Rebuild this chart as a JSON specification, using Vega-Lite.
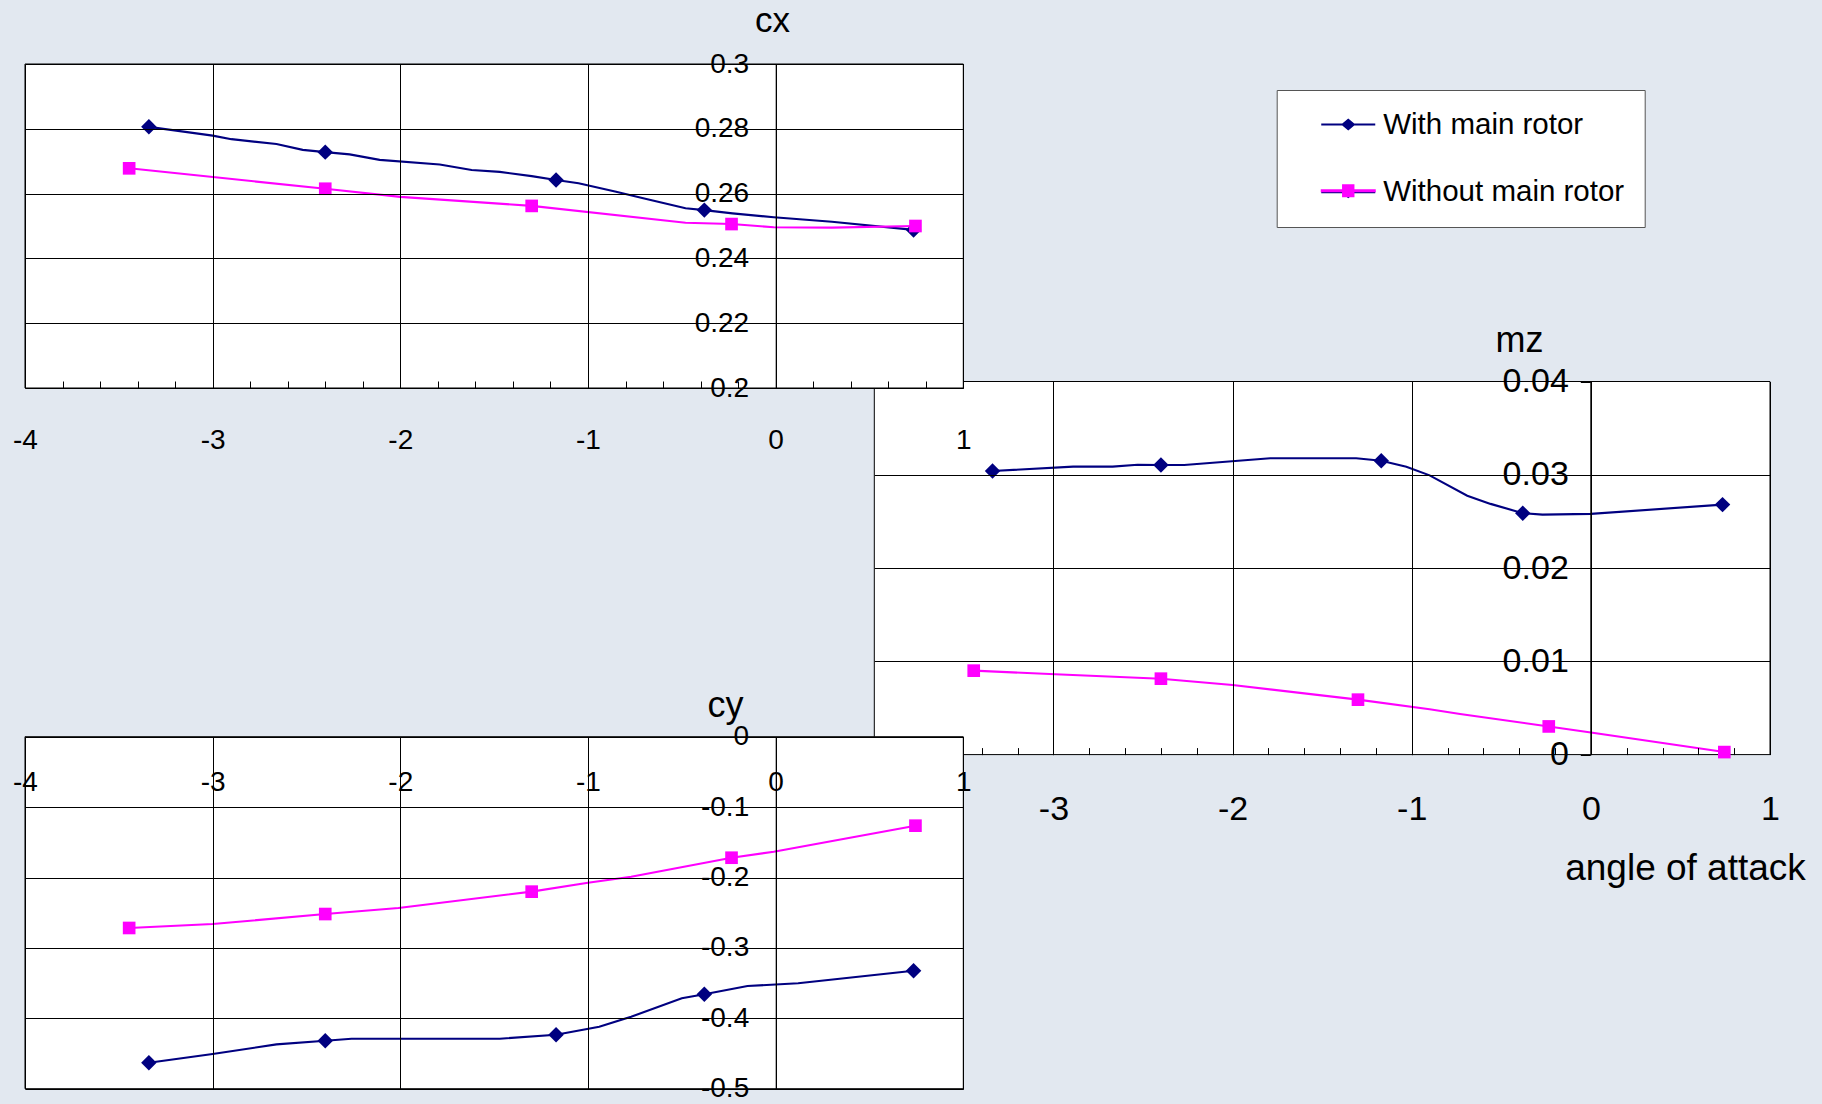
{
  "$schema": "https://vega.github.io/schema/vega-lite/v6.json",
  "width": 1822,
  "height": 1104,
  "padding": 0,
  "autosize": {"type": "none"},
  "background": "#E2E8F0",
  "config": {
    "view": {"stroke": null},
    "font": "Liberation Sans",
    "axis": {
      "labelFont": "Liberation Sans",
      "titleFont": "Liberation Sans",
      "labelColor": "black",
      "titleColor": "black",
      "gridColor": "black",
      "gridOpacity": 1,
      "gridWidth": 1,
      "tickColor": "black",
      "tickWidth": 1,
      "domainColor": "black",
      "domainWidth": 1,
      "labelFlush": false,
      "labelOverlap": false,
      "titleFontWeight": "normal"
    }
  },
  "data": {
    "values": [
      {"panel": "cx", "series": "With main rotor", "alpha": -3.34, "value": 0.2806, "measured": true},
      {"panel": "cx", "series": "With main rotor", "alpha": -3.0, "value": 0.2779, "measured": false},
      {"panel": "cx", "series": "With main rotor", "alpha": -2.9, "value": 0.2768, "measured": false},
      {"panel": "cx", "series": "With main rotor", "alpha": -2.66, "value": 0.2753, "measured": false},
      {"panel": "cx", "series": "With main rotor", "alpha": -2.52, "value": 0.2735, "measured": false},
      {"panel": "cx", "series": "With main rotor", "alpha": -2.4, "value": 0.2728, "measured": true},
      {"panel": "cx", "series": "With main rotor", "alpha": -2.27, "value": 0.2721, "measured": false},
      {"panel": "cx", "series": "With main rotor", "alpha": -2.11, "value": 0.2704, "measured": false},
      {"panel": "cx", "series": "With main rotor", "alpha": -1.79, "value": 0.269, "measured": false},
      {"panel": "cx", "series": "With main rotor", "alpha": -1.62, "value": 0.2673, "measured": false},
      {"panel": "cx", "series": "With main rotor", "alpha": -1.47, "value": 0.2667, "measured": false},
      {"panel": "cx", "series": "With main rotor", "alpha": -1.3, "value": 0.2654, "measured": false},
      {"panel": "cx", "series": "With main rotor", "alpha": -1.17, "value": 0.2642, "measured": true},
      {"panel": "cx", "series": "With main rotor", "alpha": -1.05, "value": 0.2632, "measured": false},
      {"panel": "cx", "series": "With main rotor", "alpha": -0.85, "value": 0.2606, "measured": false},
      {"panel": "cx", "series": "With main rotor", "alpha": -0.7, "value": 0.2585, "measured": false},
      {"panel": "cx", "series": "With main rotor", "alpha": -0.48, "value": 0.2555, "measured": false},
      {"panel": "cx", "series": "With main rotor", "alpha": -0.38, "value": 0.2549, "measured": true},
      {"panel": "cx", "series": "With main rotor", "alpha": -0.23, "value": 0.2539, "measured": false},
      {"panel": "cx", "series": "With main rotor", "alpha": -0.01, "value": 0.2527, "measured": false},
      {"panel": "cx", "series": "With main rotor", "alpha": 0.3, "value": 0.2513, "measured": false},
      {"panel": "cx", "series": "With main rotor", "alpha": 0.735, "value": 0.2488, "measured": true},
      {"panel": "cx", "series": "Without main rotor", "alpha": -3.445, "value": 0.2678, "measured": true},
      {"panel": "cx", "series": "Without main rotor", "alpha": -2.4, "value": 0.2615, "measured": true},
      {"panel": "cx", "series": "Without main rotor", "alpha": -2.0, "value": 0.259, "measured": false},
      {"panel": "cx", "series": "Without main rotor", "alpha": -1.3, "value": 0.2562, "measured": true},
      {"panel": "cx", "series": "Without main rotor", "alpha": -0.48, "value": 0.251, "measured": false},
      {"panel": "cx", "series": "Without main rotor", "alpha": -0.235, "value": 0.2506, "measured": true},
      {"panel": "cx", "series": "Without main rotor", "alpha": -0.01, "value": 0.2496, "measured": false},
      {"panel": "cx", "series": "Without main rotor", "alpha": 0.3, "value": 0.2495, "measured": false},
      {"panel": "cx", "series": "Without main rotor", "alpha": 0.745, "value": 0.25, "measured": true},
      {"panel": "mz", "series": "With main rotor", "alpha": -3.34, "value": 0.0304, "measured": true},
      {"panel": "mz", "series": "With main rotor", "alpha": -2.89, "value": 0.03087, "measured": false},
      {"panel": "mz", "series": "With main rotor", "alpha": -2.67, "value": 0.03087, "measured": false},
      {"panel": "mz", "series": "With main rotor", "alpha": -2.53, "value": 0.03108, "measured": false},
      {"panel": "mz", "series": "With main rotor", "alpha": -2.4, "value": 0.03105, "measured": true},
      {"panel": "mz", "series": "With main rotor", "alpha": -2.27, "value": 0.03105, "measured": false},
      {"panel": "mz", "series": "With main rotor", "alpha": -1.79, "value": 0.03177, "measured": false},
      {"panel": "mz", "series": "With main rotor", "alpha": -1.31, "value": 0.03177, "measured": false},
      {"panel": "mz", "series": "With main rotor", "alpha": -1.17, "value": 0.03151, "measured": true},
      {"panel": "mz", "series": "With main rotor", "alpha": -1.03, "value": 0.03087, "measured": false},
      {"panel": "mz", "series": "With main rotor", "alpha": -0.9, "value": 0.02994, "measured": false},
      {"panel": "mz", "series": "With main rotor", "alpha": -0.69, "value": 0.02776, "measured": false},
      {"panel": "mz", "series": "With main rotor", "alpha": -0.56, "value": 0.02688, "measured": false},
      {"panel": "mz", "series": "With main rotor", "alpha": -0.38, "value": 0.02588, "measured": true},
      {"panel": "mz", "series": "With main rotor", "alpha": -0.27, "value": 0.02573, "measured": false},
      {"panel": "mz", "series": "With main rotor", "alpha": 0.0, "value": 0.02581, "measured": false},
      {"panel": "mz", "series": "With main rotor", "alpha": 0.735, "value": 0.0268, "measured": true},
      {"panel": "mz", "series": "Without main rotor", "alpha": -3.445, "value": 0.009, "measured": true},
      {"panel": "mz", "series": "Without main rotor", "alpha": -2.99, "value": 0.00861, "measured": false},
      {"panel": "mz", "series": "Without main rotor", "alpha": -2.4, "value": 0.00814, "measured": true},
      {"panel": "mz", "series": "Without main rotor", "alpha": -2.0, "value": 0.00746, "measured": false},
      {"panel": "mz", "series": "Without main rotor", "alpha": -1.3, "value": 0.00589, "measured": true},
      {"panel": "mz", "series": "Without main rotor", "alpha": -0.9, "value": 0.00486, "measured": false},
      {"panel": "mz", "series": "Without main rotor", "alpha": -0.73, "value": 0.00436, "measured": false},
      {"panel": "mz", "series": "Without main rotor", "alpha": -0.235, "value": 0.00302, "measured": true},
      {"panel": "mz", "series": "Without main rotor", "alpha": 0.0, "value": 0.00237, "measured": false},
      {"panel": "mz", "series": "Without main rotor", "alpha": 0.745, "value": 0.00027, "measured": true},
      {"panel": "cy", "series": "With main rotor", "alpha": -3.34, "value": -0.4631, "measured": true},
      {"panel": "cy", "series": "With main rotor", "alpha": -3.0, "value": -0.4507, "measured": false},
      {"panel": "cy", "series": "With main rotor", "alpha": -2.66, "value": -0.437, "measured": false},
      {"panel": "cy", "series": "With main rotor", "alpha": -2.4, "value": -0.4318, "measured": true},
      {"panel": "cy", "series": "With main rotor", "alpha": -2.26, "value": -0.429, "measured": false},
      {"panel": "cy", "series": "With main rotor", "alpha": -1.47, "value": -0.429, "measured": false},
      {"panel": "cy", "series": "With main rotor", "alpha": -1.17, "value": -0.4233, "measured": true},
      {"panel": "cy", "series": "With main rotor", "alpha": -0.94, "value": -0.4119, "measured": false},
      {"panel": "cy", "series": "With main rotor", "alpha": -0.77, "value": -0.3977, "measured": false},
      {"panel": "cy", "series": "With main rotor", "alpha": -0.5, "value": -0.3716, "measured": false},
      {"panel": "cy", "series": "With main rotor", "alpha": -0.38, "value": -0.3659, "measured": true},
      {"panel": "cy", "series": "With main rotor", "alpha": -0.15, "value": -0.3541, "measured": false},
      {"panel": "cy", "series": "With main rotor", "alpha": 0.12, "value": -0.3503, "measured": false},
      {"panel": "cy", "series": "With main rotor", "alpha": 0.735, "value": -0.3324, "measured": true},
      {"panel": "cy", "series": "Without main rotor", "alpha": -3.445, "value": -0.2717, "measured": true},
      {"panel": "cy", "series": "Without main rotor", "alpha": -3.0, "value": -0.2661, "measured": false},
      {"panel": "cy", "series": "Without main rotor", "alpha": -2.4, "value": -0.2519, "measured": true},
      {"panel": "cy", "series": "Without main rotor", "alpha": -2.01, "value": -0.2433, "measured": false},
      {"panel": "cy", "series": "Without main rotor", "alpha": -1.3, "value": -0.2201, "measured": true},
      {"panel": "cy", "series": "Without main rotor", "alpha": -1.0, "value": -0.2074, "measured": false},
      {"panel": "cy", "series": "Without main rotor", "alpha": -0.77, "value": -0.1989, "measured": false},
      {"panel": "cy", "series": "Without main rotor", "alpha": -0.235, "value": -0.1719, "measured": true},
      {"panel": "cy", "series": "Without main rotor", "alpha": -0.01, "value": -0.1634, "measured": false},
      {"panel": "cy", "series": "Without main rotor", "alpha": 0.745, "value": -0.1264, "measured": true}
    ]
  },
  "resolve": {
    "scale": {"x": "independent", "y": "independent"},
    "axis": {"x": "independent", "y": "independent"}
  },
  "layer": [
    {
      "resolve": {"axis": {"x": "independent", "y": "independent"}},
      "layer": [
        {
          "data": {"values": [{}]},
          "mark": {"type": "rect", "fill": "white", "stroke": "black", "strokeWidth": 1},
          "encoding": {
            "x": {"datum": -4, "type": "quantitative",
              "scale": {"domain": [-4, 1], "range": [874.3, 1770], "nice": false},
              "axis": {"orient": "top", "offset": -792.5, "values": [-3, -2, -1, 0, 1], "grid": true, "ticks": false, "domain": false,
                "labelPadding": 0, "labelBaseline": "top", "labelFontSize": 34, "labelExpr": "'' + datum.value",
                "title": "angle of attack", "titleX": 1685, "titleY": 86.8, "titleAlign": "center", "titleBaseline": "alphabetic", "titleFontSize": 37, "titleAngle": 0, "zindex": 1}},
            "x2": {"datum": 1},
            "y": {"datum": 0, "type": "quantitative",
              "scale": {"domain": [0, 0.04], "range": [754.6, 381.5], "nice": false},
              "axis": {"orient": "left", "offset": -1590.3, "values": [0, 0.01, 0.02, 0.03, 0.04], "grid": false, "ticks": true, "tickSize": 10, "domain": true,
                "labelPadding": 12, "labelFontSize": 34, "labelExpr": "'' + datum.value",
                "title": "mz", "titleX": -71.3, "titleY": 351, "titleAlign": "center", "titleBaseline": "alphabetic", "titleFontSize": 36, "titleAngle": 0, "zindex": 1}},
            "y2": {"datum": 0.04}
          }
        },
        {
          "transform": [{"filter": "datum.panel === 'mz'"}],
          "mark": {"type": "line", "strokeWidth": 2.1},
          "encoding": {
            "x": {"field": "alpha", "type": "quantitative",
              "scale": {"domain": [-4, 1], "range": [874.3, 1770], "nice": false},
              "axis": {"orient": "top", "offset": -754.6, "values": [-3.4, -3.2, -3, -2.8, -2.6, -2.4, -2.2, -2, -1.8, -1.6, -1.4, -1.2, -1, -0.8, -0.6, -0.4, -0.2, 0, 0.2, 0.4, 0.6, 0.8],
                "grid": false, "labels": false, "domain": false, "ticks": true, "tickSize": 7, "title": null, "zindex": 1}},
            "y": {"field": "value", "type": "quantitative",
              "scale": {"domain": [0, 0.04], "range": [754.6, 381.5], "nice": false},
              "axis": {"orient": "left", "offset": -1590.3, "values": [0.01, 0.02, 0.03], "grid": true, "labels": false, "ticks": false, "domain": false, "title": null, "zindex": 1}},
            "color": {"field": "series", "type": "nominal",
              "scale": {"domain": ["With main rotor", "Without main rotor"], "range": ["#000080", "#FF00FF"]}}
          }
        },
        {
          "transform": [{"filter": "datum.panel === 'mz' && datum.measured && datum.series === 'With main rotor'"}],
          "mark": {"type": "point", "filled": true, "opacity": 1, "shape": "diamond", "size": 240},
          "encoding": {
            "x": {"field": "alpha", "type": "quantitative", "scale": {"domain": [-4, 1], "range": [874.3, 1770], "nice": false}, "axis": null},
            "y": {"field": "value", "type": "quantitative", "scale": {"domain": [0, 0.04], "range": [754.6, 381.5], "nice": false}, "axis": null},
            "fill": {"field": "series", "type": "nominal",
              "scale": {"domain": ["Without main rotor", "With main rotor"], "range": ["#FF00FF", "#000080"]}}
          }
        },
        {
          "transform": [{"filter": "datum.panel === 'mz' && datum.measured && datum.series === 'Without main rotor'"}],
          "mark": {"type": "point", "filled": true, "opacity": 1, "shape": "square", "size": 160},
          "encoding": {
            "x": {"field": "alpha", "type": "quantitative", "scale": {"domain": [-4, 1], "range": [874.3, 1770], "nice": false}, "axis": null},
            "y": {"field": "value", "type": "quantitative", "scale": {"domain": [0, 0.04], "range": [754.6, 381.5], "nice": false}, "axis": null},
            "fill": {"field": "series", "type": "nominal",
              "scale": {"domain": ["Without main rotor", "With main rotor"], "range": ["#FF00FF", "#000080"]}}
          }
        }
      ]
    },
    {
      "resolve": {"axis": {"x": "independent", "y": "independent"}},
      "layer": [
        {
          "data": {"values": [{}]},
          "mark": {"type": "rect", "fill": "white", "stroke": "black", "strokeWidth": 1},
          "encoding": {
            "x": {"datum": -4, "type": "quantitative",
              "scale": {"domain": [-4, 1], "range": [25, 963.3], "nice": false},
              "axis": {"orient": "top", "offset": -426, "values": [-4, -3, -2, -1, 0, 1], "grid": true, "ticks": false, "domain": false,
                "labelPadding": 0, "labelBaseline": "top", "labelFontSize": 28, "labelExpr": "'' + datum.value", "title": null, "zindex": 1}},
            "x2": {"datum": 1},
            "y": {"datum": 0.2, "type": "quantitative",
              "scale": {"domain": [0.2, 0.3], "range": [388, 64], "nice": false},
              "axis": {"orient": "left", "offset": -775.7, "values": [0.2, 0.22, 0.24, 0.26, 0.28, 0.3], "grid": true, "ticks": true, "tickSize": 9, "domain": true,
                "labelPadding": 18, "labelFontSize": 28, "labelExpr": "'' + datum.value",
                "title": "cx", "titleX": -3.7, "titleY": 31, "titleAlign": "center", "titleBaseline": "alphabetic", "titleFontSize": 35, "titleAngle": 0, "zindex": 1}},
            "y2": {"datum": 0.3}
          }
        },
        {
          "transform": [{"filter": "datum.panel === 'cx'"}],
          "mark": {"type": "line", "strokeWidth": 2.1},
          "encoding": {
            "x": {"field": "alpha", "type": "quantitative",
              "scale": {"domain": [-4, 1], "range": [25, 963.3], "nice": false},
              "axis": {"orient": "top", "offset": -388, "values": [-3.8, -3.6, -3.4, -3.2, -3, -2.8, -2.6, -2.4, -2.2, -2, -1.8, -1.6, -1.4, -1.2, -1, -0.8, -0.6, -0.4, -0.2, 0, 0.2, 0.4, 0.6, 0.8],
                "grid": false, "labels": false, "domain": false, "ticks": true, "tickSize": 7, "title": null, "zindex": 1}},
            "y": {"field": "value", "type": "quantitative",
              "scale": {"domain": [0.2, 0.3], "range": [388, 64], "nice": false}, "axis": null},
            "color": {"field": "series", "type": "nominal",
              "scale": {"domain": ["With main rotor", "Without main rotor"], "range": ["#000080", "#FF00FF"]},
              "legend": {
                "orient": "none", "legendX": 1276.7, "legendY": 90, "title": null,
                "padding": 19.8, "rowPadding": 36.7, "labelOffset": 57.2, "symbolOffset": 0,
                "symbolSize": 400, "symbolType": "M-1.45,0M1,-0.1H3.1L3.7,-0.6L4.3,-0.1H6.4V0.1H4.3L3.7,0.6L3.1,0.1H1Z",
                "symbolFillColor": "#000080", "symbolStrokeWidth": 0, "symbolOpacity": 1,
                "labelFontSize": 29.5, "labelFont": "Liberation Sans", "labelColor": "black", "labelLimit": 400,
                "fillColor": "white", "strokeColor": "#555555", "cornerRadius": 0
              }
            }
          }
        },
        {
          "transform": [{"filter": "datum.panel === 'cx' && datum.measured && datum.series === 'With main rotor'"}],
          "mark": {"type": "point", "filled": true, "opacity": 1, "shape": "diamond", "size": 240},
          "encoding": {
            "x": {"field": "alpha", "type": "quantitative", "scale": {"domain": [-4, 1], "range": [25, 963.3], "nice": false}, "axis": null},
            "y": {"field": "value", "type": "quantitative", "scale": {"domain": [0.2, 0.3], "range": [388, 64], "nice": false}, "axis": null},
            "fill": {"field": "series", "type": "nominal",
              "scale": {"domain": ["Without main rotor", "With main rotor"], "range": ["#FF00FF", "#000080"]}}
          }
        },
        {
          "transform": [{"filter": "datum.panel === 'cx' && datum.measured && datum.series === 'Without main rotor'"}],
          "mark": {"type": "point", "filled": true, "opacity": 1, "shape": "square", "size": 160},
          "encoding": {
            "x": {"field": "alpha", "type": "quantitative", "scale": {"domain": [-4, 1], "range": [25, 963.3], "nice": false}, "axis": null},
            "y": {"field": "value", "type": "quantitative", "scale": {"domain": [0.2, 0.3], "range": [388, 64], "nice": false}, "axis": null},
            "fill": {"field": "series", "type": "nominal",
              "scale": {"domain": ["Without main rotor", "With main rotor"], "range": ["#FF00FF", "#000080"]},
              "legend": {
                "orient": "none", "legendX": 1276.7, "legendY": 156.2, "title": null, "values": ["Without main rotor"],
                "padding": 19.8, "labelOffset": 57.2, "symbolOffset": 0,
                "symbolSize": 400, "symbolType": "M-1.45,0M0.95,-0.14H3.08V-0.64H4.32V-0.14H6.45V0.14H4.32V0.64H3.08V0.14H0.95Z",
                "symbolStrokeWidth": 0, "symbolOpacity": 1,
                "labelFontSize": 29.5, "labelFont": "Liberation Sans", "labelColor": "black", "labelOpacity": 0, "labelLimit": 400
              }
            }
          }
        }
      ]
    },
    {
      "resolve": {"axis": {"x": "independent", "y": "independent"}},
      "layer": [
        {
          "data": {"values": [{}]},
          "mark": {"type": "rect", "fill": "white", "stroke": "black", "strokeWidth": 1},
          "encoding": {
            "x": {"datum": -4, "type": "quantitative",
              "scale": {"domain": [-4, 1], "range": [25, 963.3], "nice": false},
              "axis": {"orient": "top", "offset": -768, "values": [-4, -3, -2, -1, 0, 1], "grid": true, "ticks": false, "domain": false,
                "labelPadding": 0, "labelBaseline": "top", "labelFontSize": 28, "labelExpr": "'' + datum.value", "title": null, "zindex": 1}},
            "x2": {"datum": 1},
            "y": {"datum": -0.5, "type": "quantitative",
              "scale": {"domain": [-0.5, 0], "range": [1088.7, 736.7], "nice": false},
              "axis": {"orient": "left", "offset": -775.7, "values": [-0.5, -0.4, -0.3, -0.2, -0.1, 0], "grid": true, "ticks": true, "tickSize": 9, "domain": true,
                "labelPadding": 18, "labelFontSize": 28, "labelExpr": "'' + datum.value",
                "title": "cy", "titleX": -50.7, "titleY": 716, "titleAlign": "center", "titleBaseline": "alphabetic", "titleFontSize": 36, "titleAngle": 0, "zindex": 1}},
            "y2": {"datum": 0}
          }
        },
        {
          "transform": [{"filter": "datum.panel === 'cy'"}],
          "mark": {"type": "line", "strokeWidth": 2.1},
          "encoding": {
            "x": {"field": "alpha", "type": "quantitative", "scale": {"domain": [-4, 1], "range": [25, 963.3], "nice": false}, "axis": null},
            "y": {"field": "value", "type": "quantitative", "scale": {"domain": [-0.5, 0], "range": [1088.7, 736.7], "nice": false}, "axis": null},
            "color": {"field": "series", "type": "nominal",
              "scale": {"domain": ["With main rotor", "Without main rotor"], "range": ["#000080", "#FF00FF"]}}
          }
        },
        {
          "transform": [{"filter": "datum.panel === 'cy' && datum.measured && datum.series === 'With main rotor'"}],
          "mark": {"type": "point", "filled": true, "opacity": 1, "shape": "diamond", "size": 240},
          "encoding": {
            "x": {"field": "alpha", "type": "quantitative", "scale": {"domain": [-4, 1], "range": [25, 963.3], "nice": false}, "axis": null},
            "y": {"field": "value", "type": "quantitative", "scale": {"domain": [-0.5, 0], "range": [1088.7, 736.7], "nice": false}, "axis": null},
            "fill": {"field": "series", "type": "nominal",
              "scale": {"domain": ["Without main rotor", "With main rotor"], "range": ["#FF00FF", "#000080"]}}
          }
        },
        {
          "transform": [{"filter": "datum.panel === 'cy' && datum.measured && datum.series === 'Without main rotor'"}],
          "mark": {"type": "point", "filled": true, "opacity": 1, "shape": "square", "size": 160},
          "encoding": {
            "x": {"field": "alpha", "type": "quantitative", "scale": {"domain": [-4, 1], "range": [25, 963.3], "nice": false}, "axis": null},
            "y": {"field": "value", "type": "quantitative", "scale": {"domain": [-0.5, 0], "range": [1088.7, 736.7], "nice": false}, "axis": null},
            "fill": {"field": "series", "type": "nominal",
              "scale": {"domain": ["Without main rotor", "With main rotor"], "range": ["#FF00FF", "#000080"]}}
          }
        }
      ]
    }
  ]
}
